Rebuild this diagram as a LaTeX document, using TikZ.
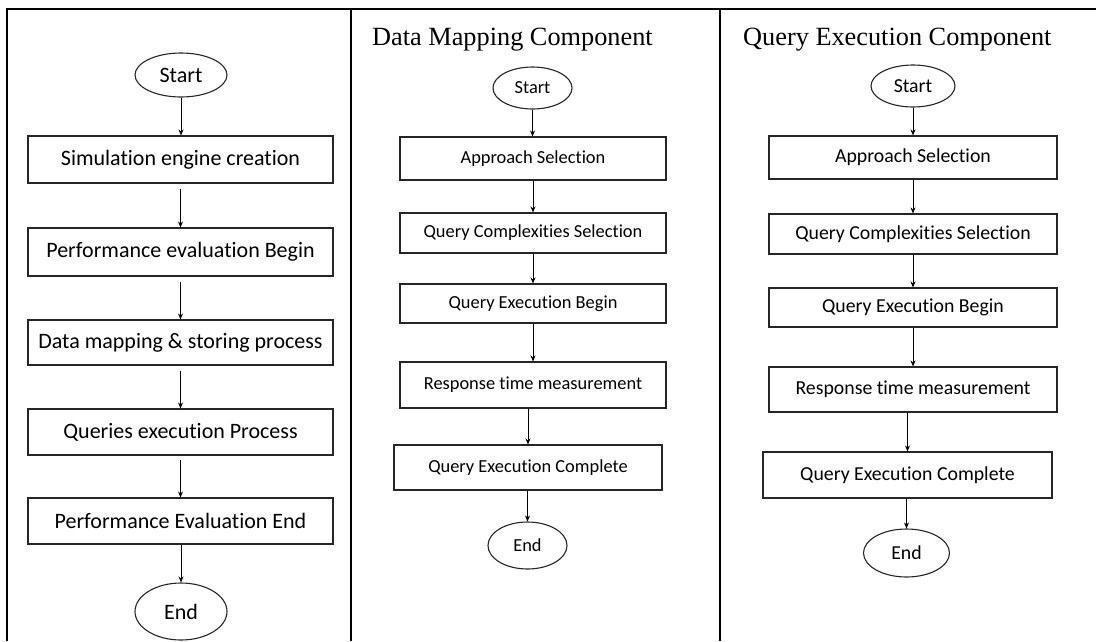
\documentclass[tikz,border=0pt]{standalone}
\usepackage{fontspec}
\setmainfont[Ligatures=NoCommon]{Carlito}
\newfontfamily\titlefont{Liberation Serif}
\usetikzlibrary{arrows.meta,shapes.geometric}
\begin{document}
\begin{tikzpicture}[x=1pt,y=-1pt,
  frame/.style={line width=2pt,black},
  procbox/.style={draw=black!85,line width=1.1pt,rectangle,inner sep=0pt,align=center,text=black},
  term/.style={draw=black!85,line width=1.1pt,ellipse,inner sep=0pt,text=black},
  fa/.style={font=\fontsize{22}{26}\selectfont},
  fb/.style={font=\fontsize{18.4}{22}\selectfont},
  fc/.style={font=\fontsize{19.8}{24}\selectfont},
  arr/.style={line width=0.9pt,black,-{Stealth[length=6pt,width=5pt]}},
  ttl/.style={anchor=base west,inner sep=0pt,font=\titlefont\fontsize{26.3}{30}\selectfont}
]
\useasboundingbox (0,0) rectangle (1096,641);
\fill[white] (0,0) rectangle (1096,641);
% frame
\draw[frame] (7,641) -- (7,8.5) -- (1096,8.5);
\draw[frame] (351,8.5) -- (351,641);
\draw[frame] (720,8.5) -- (720,641);

% Panel 1
\node[term,fa,minimum width=92pt,minimum height=44pt] (s1) at (181,75) {Start};
\node[procbox,fa,minimum width=305pt,minimum height=47pt] (b1) at (180.5,159.5) {Simulation engine creation};
\node[procbox,fa,minimum width=305pt,minimum height=48pt] (b2) at (180.5,252) {Performance evaluation Begin};
\node[procbox,fa,minimum width=305pt,minimum height=45pt] (b3) at (180.5,342.5) {Data mapping \& storing process};
\node[procbox,fa,minimum width=305pt,minimum height=46pt] (b4) at (180.5,432) {Queries execution Process};
\node[procbox,fa,minimum width=305pt,minimum height=46pt] (b5) at (180.5,521) {Performance Evaluation End};
\node[term,fa,minimum width=92pt,minimum height=57pt] (e1) at (181,611.5) {End};
\draw[arr] (s1.south) -- (s1.south |- b1.north);
\draw[arr,shorten <=5pt] (b1.south) -- (b2.north);
\draw[arr,shorten <=5pt] (b2.south) -- (b3.north);
\draw[arr,shorten <=5pt] (b3.south) -- (b4.north);
\draw[arr,shorten <=4pt] (b4.south) -- (b5.north);
\draw[arr] (b5.south -| e1.north) -- (e1.north);

% Panel 2
\node[ttl] (t2) at (372,45) {Data Mapping Component};
\node[term,fb,minimum width=79pt,minimum height=42pt] (s2) at (532.5,88) {Start};
\node[procbox,fb,minimum width=266pt,minimum height=43pt] (a1) at (533,158.5) {Approach Selection};
\node[procbox,fb,minimum width=266pt,minimum height=40pt] (a2) at (533,233) {Query Complexities Selection};
\node[procbox,fb,minimum width=266pt,minimum height=39pt] (a3) at (533,303.5) {Query Execution Begin};
\node[procbox,fb,minimum width=266pt,minimum height=46pt] (a4) at (533,385) {Response time measurement};
\node[procbox,fb,minimum width=268pt,minimum height=45pt] (a5) at (528,467.5) {Query Execution Complete};
\node[term,fb,minimum width=79pt,minimum height=47pt] (e2) at (527.5,545.5) {End};
\draw[arr] (s2.south) -- (s2.south |- a1.north);
\draw[arr] (a1.south) -- (a2.north);
\draw[arr] (a2.south) -- (a3.north);
\draw[arr] (a3.south) -- (a4.north);
\draw[arr] (a4.south -| a5.north) -- (a5.north);
\draw[arr] (a5.south -| e2.north) -- (e2.north);

% Panel 3
\node[ttl] (t3) at (743,45) {Query Execution Component};
\node[term,fc,minimum width=84pt,minimum height=42pt] (s3) at (913,86) {Start};
\node[procbox,fc,minimum width=288pt,minimum height=43pt] (c1) at (913,157.5) {Approach Selection};
\node[procbox,fc,minimum width=288pt,minimum height=40pt] (c2) at (913,234) {Query Complexities Selection};
\node[procbox,fc,minimum width=288pt,minimum height=39pt] (c3) at (913,307.5) {Query Execution Begin};
\node[procbox,fc,minimum width=288pt,minimum height=45pt] (c4) at (913,389.5) {Response time measurement};
\node[procbox,fc,minimum width=289pt,minimum height=46pt] (c5) at (907.5,475) {Query Execution Complete};
\node[term,fc,minimum width=86pt,minimum height=48pt] (e3) at (906.5,553) {End};
\draw[arr] (s3.south) -- (s3.south |- c1.north);
\draw[arr] (c1.south) -- (c2.north);
\draw[arr] (c2.south) -- (c3.north);
\draw[arr] (c3.south) -- (c4.north);
\draw[arr] (c4.south -| c5.north) -- (c5.north);
\draw[arr] (c5.south -| e3.north) -- (e3.north);
\end{tikzpicture}
\end{document}
